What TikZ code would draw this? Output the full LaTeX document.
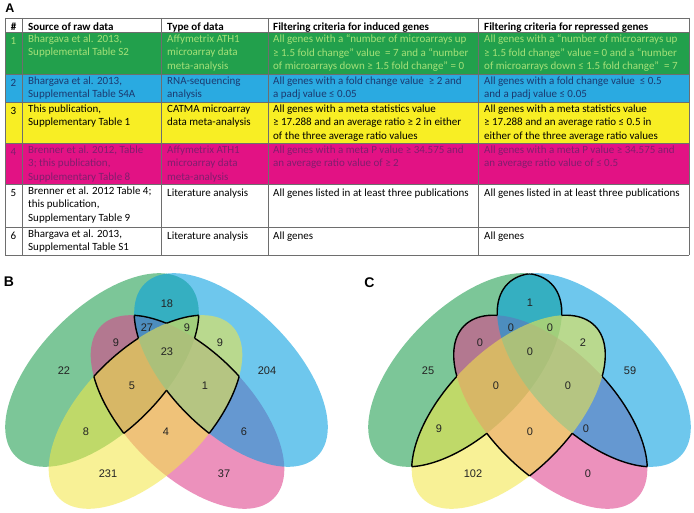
\documentclass[tikz,border=0pt]{standalone}
\usepackage{fontspec}
\setmainfont{Carlito}
\newfontfamily\vennfont{Liberation Sans}

\definecolor{rowgreen}{RGB}{34,160,76}
\definecolor{rowblue}{RGB}{42,170,225}
\definecolor{rowyellow}{RGB}{248,238,36}
\definecolor{rowpink}{RGB}{226,18,132}
\definecolor{inkgreen}{RGB}{165,225,120}
\definecolor{inkblue}{RGB}{28,58,112}
\definecolor{inkpink}{RGB}{128,30,110}
\definecolor{tabgray}{RGB}{110,110,110}
\definecolor{numgray}{RGB}{35,35,35}
\definecolor{setgreen}{RGB}{25,155,74}
\definecolor{setpink}{RGB}{222,62,138}
\definecolor{setblue}{RGB}{0,158,225}
\definecolor{setyellow}{RGB}{243,232,71}

\newcommand\tabfont{\fontsize{11}{13.5}\selectfont}

% the four lists as ellipses (local coordinates of one panel)
\newcommand\ovalG{(102,370) ellipse [x radius=122pt, y radius=62pt, rotate=45]}
\newcommand\ovalP{(187.5,412) ellipse [x radius=122pt, y radius=62pt, rotate=-45]}
\newcommand\ovalY{(145.5,412) ellipse [x radius=122pt, y radius=62pt, rotate=45]}
\newcommand\ovalB{(231,370) ellipse [x radius=122pt, y radius=62pt, rotate=-45]}

% edge #1 where it lies inside #2 and #3 but outside #4
\newcommand\rimthree[4]{%
  \begin{scope}
    \clip #2; \clip #3;
    \begin{scope}[even odd rule]
      \clip (-20,200) rectangle (360,530) #4;
      \draw[rim] #1;
    \end{scope}
  \end{scope}}
% edge #1 where it lies inside #2 but outside #3 and #4
\newcommand\rimtwo[4]{%
  \begin{scope}
    \clip #2;
    \begin{scope}[even odd rule]
      \clip (-20,200) rectangle (360,530) #3;
      \clip (-20,200) rectangle (360,530) #4;
      \draw[rim] #1;
    \end{scope}
  \end{scope}}

\begin{document}
\begin{tikzpicture}[x=1pt, y=-1pt,
    tabcell/.style={anchor=north west, inner sep=0pt, align=left, font=\tabfont, execute at begin node=\strut},
    numcell/.style={tabcell, anchor=north},
    headcell/.style={tabcell, font=\tabfont\bfseries},
    tabline/.style={draw=tabgray, line width=0.8pt},
    vnum/.style={font=\vennfont\fontsize{11}{13}\selectfont, text=numgray, inner sep=0pt},
    panel/.style={font=\vennfont\bfseries\fontsize{14}{16}\selectfont, inner sep=0pt},
    rim/.style={draw=black, line width=1.4pt},
    vgreen/.style={fill=setgreen, fill opacity=0.57},
    vpink/.style={fill=setpink, fill opacity=0.57},
    vblue/.style={fill=setblue, fill opacity=0.57},
    vyellow/.style={fill=setyellow, fill opacity=0.57}
  ]
  \useasboundingbox[fill=white] (0,0) rectangle (694,513);

  % table
  \node[panel, font=\vennfont\bfseries\fontsize{12.5}{14}\selectfont] (panelA) at (10,8) {A};
  \fill[rowgreen] (5,32) rectangle (689,74);
  \fill[rowblue] (5,74) rectangle (689,102);
  \fill[rowyellow] (5,102) rectangle (689,143);
  \fill[rowpink] (5,143) rectangle (689,184);
  \foreach \y in {18,32,74,102,143,184,227,255}
    \draw[tabline] (5,\y) -- (689,\y);
  \foreach \x in {5,22,161,268,478,689}
    \draw[tabline] (\x,18) -- (\x,255);

  \node[numcell, font=\tabfont\bfseries] (hnum) at (13.5,20.5) {\#};
  \node[headcell] (hsrc) at (28,20.5) {Source of raw data};
  \node[headcell] (htype) at (167,20.5) {Type of data};
  \node[headcell] (hind) at (273,20.5) {Filtering criteria for induced genes};
  \node[headcell] (hrep) at (484,20.5) {Filtering criteria for repressed genes};

  \node[numcell, text=inkgreen] (n1) at (13.5,34.5) {1};
  \node[tabcell, text=inkgreen] (s1) at (28,34.5) {Bhargava et al. 2013,\\Supplemental Table S2};
  \node[tabcell, text=inkgreen] (t1) at (167,34.5) {Affymetrix ATH1\\microarray data\\meta-analysis};
  \node[tabcell, text=inkgreen] (i1) at (273,34.5) {All genes with a “number of microarrays up\\≥ 1.5 fold change” value \ = 7 and a “number\\of microarrays down ≥ 1.5 fold change” = 0};
  \node[tabcell, text=inkgreen] (r1) at (484,34.5) {All genes with a “number of microarrays up\\≥ 1.5 fold change” value = 0 and a “number\\of microarrays down ≤ 1.5 fold change” \ = 7};

  \node[numcell, text=inkblue] (n2) at (13.5,76.5) {2};
  \node[tabcell, text=inkblue] (s2) at (28,76.5) {Bhargava et al. 2013,\\Supplemental Table S4A};
  \node[tabcell, text=inkblue] (t2) at (167,76.5) {RNA-sequencing\\analysis};
  \node[tabcell, text=inkblue] (i2) at (273,76.5) {All genes with a fold change value \ ≥ 2 and\\a padj value ≤ 0.05};
  \node[tabcell, text=inkblue] (r2) at (484,76.5) {All genes with a fold change value \ ≤ 0.5\\and a padj value ≤ 0.05};

  \node[numcell] (n3) at (13.5,104.5) {3};
  \node[tabcell] (s3) at (28,104.5) {This publication,\\Supplementary Table 1};
  \node[tabcell] (t3) at (167,104.5) {CATMA microarray\\data meta-analysis};
  \node[tabcell] (i3) at (273,104.5) {All genes with a meta statistics value\\≥ 17.288 and an average ratio ≥ 2 in either\\of the three average ratio values};
  \node[tabcell] (r3) at (484,104.5) {All genes with a meta statistics value\\≥ 17.288 and an average ratio ≤ 0.5 in\\either of the three average ratio values};

  \node[numcell, text=inkpink] (n4) at (13.5,145.5) {4};
  \node[tabcell, text=inkpink] (s4) at (28,145.5) {Brenner et al. 2012, Table\\3; this publication,\\Supplementary Table 8};
  \node[tabcell, text=inkpink] (t4) at (167,145.5) {Affymetrix ATH1\\microarray data\\meta-analysis};
  \node[tabcell, text=inkpink] (i4) at (273,145.5) {All genes with a meta P value ≥ 34.575 and\\an average ratio value of ≥ 2};
  \node[tabcell, text=inkpink] (r4) at (484,145.5) {All genes with a meta P value ≥ 34.575 and\\an average ratio value of ≤ 0.5};

  \node[numcell] (n5) at (13.5,186.5) {5};
  \node[tabcell] (s5) at (28,186.5) {Brenner et al. 2012 Table 4;\\this publication,\\Supplementary Table 9};
  \node[tabcell] (t5) at (167,186.5) {Literature analysis};
  \node[tabcell] (i5) at (273,186.5) {All genes listed in at least three publications};
  \node[tabcell] (r5) at (484,186.5) {All genes listed in at least three publications};

  \node[numcell] (n6) at (13.5,229.5) {6};
  \node[tabcell] (s6) at (28,229.5) {Bhargava et al. 2013,\\Supplemental Table S1};
  \node[tabcell] (t6) at (167,229.5) {Literature analysis};
  \node[tabcell] (i6) at (273,229.5) {All genes};
  \node[tabcell] (r6) at (484,229.5) {All genes};

  % B: induced genes
  \begin{scope}
    \fill[vgreen] \ovalG;
    \fill[vpink] \ovalP;
    \fill[vblue] \ovalB;
    \fill[vyellow] \ovalY;
    % at least three lists
    \rimthree\ovalG\ovalY\ovalB\ovalP
    \rimthree\ovalG\ovalP\ovalB\ovalY
    \rimthree\ovalG\ovalP\ovalY\ovalB
    \rimthree\ovalP\ovalY\ovalB\ovalG
    \rimthree\ovalP\ovalG\ovalB\ovalY
    \rimthree\ovalP\ovalG\ovalY\ovalB
    \rimthree\ovalY\ovalP\ovalB\ovalG
    \rimthree\ovalY\ovalG\ovalB\ovalP
    \rimthree\ovalY\ovalG\ovalP\ovalB
    \rimthree\ovalB\ovalP\ovalY\ovalG
    \rimthree\ovalB\ovalG\ovalY\ovalP
    \rimthree\ovalB\ovalG\ovalP\ovalY
    \node[panel] (panelB) at (9,282) {B};
    \node[vnum] (b18) at (167,304) {18};
    \node[vnum] (b27) at (147,328) {27};
    \node[vnum] (b9top) at (187,328) {9};
    \node[vnum] (b9left) at (116,343) {9};
    \node[vnum] (b23) at (167,352) {23};
    \node[vnum] (b9right) at (220,343) {9};
    \node[vnum] (b22) at (64,371) {22};
    \node[vnum] (b204) at (267,371) {204};
    \node[vnum] (b5) at (132,386) {5};
    \node[vnum] (b1) at (205,386) {1};
    \node[vnum] (b8) at (86,432) {8};
    \node[vnum] (b4) at (166,432) {4};
    \node[vnum] (b6) at (244,432) {6};
    \node[vnum] (b231) at (108,474) {231};
    \node[vnum] (b37) at (224,474) {37};
  \end{scope}

  % C: repressed genes
  \begin{scope}[shift={(363,0)}]
    \fill[vgreen] \ovalG;
    \fill[vpink] \ovalP;
    \fill[vblue] \ovalB;
    \fill[vyellow] \ovalY;
    % at least two lists
    \rimtwo\ovalG\ovalP\ovalY\ovalB
    \rimtwo\ovalG\ovalY\ovalP\ovalB
    \rimtwo\ovalG\ovalB\ovalP\ovalY
    \rimtwo\ovalP\ovalG\ovalY\ovalB
    \rimtwo\ovalP\ovalY\ovalG\ovalB
    \rimtwo\ovalP\ovalB\ovalG\ovalY
    \rimtwo\ovalY\ovalG\ovalP\ovalB
    \rimtwo\ovalY\ovalP\ovalG\ovalB
    \rimtwo\ovalY\ovalB\ovalG\ovalP
    \rimtwo\ovalB\ovalG\ovalP\ovalY
    \rimtwo\ovalB\ovalP\ovalG\ovalY
    \rimtwo\ovalB\ovalY\ovalG\ovalP
    \node[panel] (panelC) at (6.5,283) {C};
    \node[vnum] (c1) at (167,303) {1};
    \node[vnum] (c0a) at (148,328) {0};
    \node[vnum] (c0b) at (187,328) {0};
    \node[vnum] (c0c) at (117,343) {0};
    \node[vnum] (c0d) at (167,352) {0};
    \node[vnum] (c2) at (220,343) {2};
    \node[vnum] (c25) at (65,371) {25};
    \node[vnum] (c59) at (267,371) {59};
    \node[vnum] (c0e) at (133,386) {0};
    \node[vnum] (c0f) at (205,386) {0};
    \node[vnum] (c9) at (76,429) {9};
    \node[vnum] (c0g) at (167,432) {0};
    \node[vnum] (c0h) at (223,429) {0};
    \node[vnum] (c102) at (110,474) {102};
    \node[vnum] (c0i) at (225,474) {0};
  \end{scope}
\end{tikzpicture}
\end{document}
